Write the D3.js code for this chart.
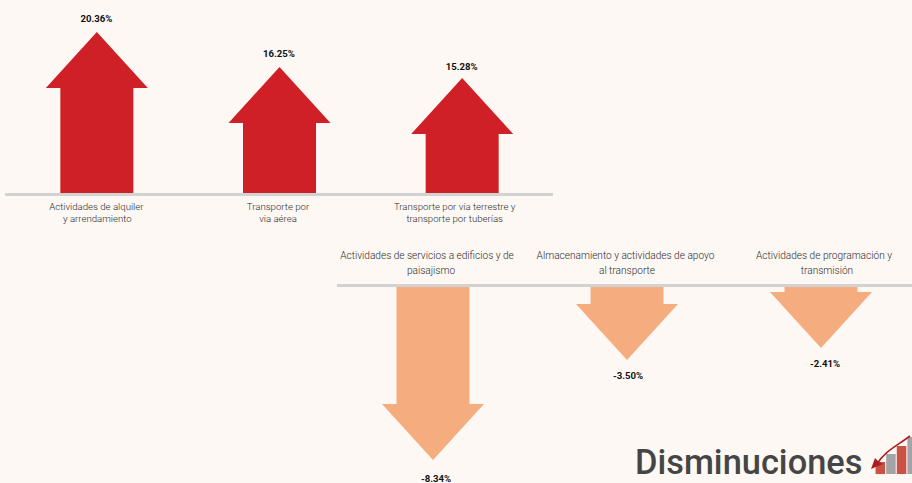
<!DOCTYPE html>
<html lang="es">
<head>
  <meta charset="UTF-8">
  <title>Disminuciones</title>
  <script src="https://d3js.org/d3.v7.min.js"></script>
  <style>
    html, body { margin: 0; padding: 0; background: #fdf8f4; overflow: hidden; }
    svg { display: block; font-family: Roboto, sans-serif; }
    .cat { font-weight: 300; fill: #2b2b2b; text-anchor: middle; }
    .cat1 { font-size: 9.65px; }
    .cat2 { font-size: 10.1px; }
    .val { font-size: 9.6px; font-weight: 700; fill: #111; text-anchor: middle; }
    .base { stroke: #d2d2d0; stroke-width: 3px; }
  </style>
</head>
<body>
  <div id="chart"></div>
  <script>
    // datos
    const upCategories = [
      ["Actividades de alquiler", "y arrendamiento"],
      ["Transporte por", "via aérea"],
      ["Transporte por vía terrestre y", "transporte por tuberías"]
    ];
    const upValues = [20.36, 16.25, 15.28];

    const downCategories = [
      ["Actividades de servicios a edificios y de", "paisajismo"],
      ["Almacenamiento y actividades de apoyo", "al transporte"],
      ["Actividades de programación y", "transmisión"]
    ];
    const downValues = [-8.34, -3.5, -2.41];

    const iconBars = [12, 20, 28, 37];

    const width = 912;
    const height = 483;
    const headLength = 56;
    const headHalf = 51;
    const shaftHalf = 36.5;

    // ajustes finos de las etiquetas (primera y segunda linea) respecto al centro de cada banda
    const upLabelShift = [[0, 1], [-1, -1], [-7, -7]];
    const downLabelShift = [[-6, -2], [-1.5, 0], [3, 6]];
    const upValueShift = [0, 0, 2];
    const downValueShift = [[3, 2], [1, -1], [4, -1]];

    const svg = d3.select("#chart").append("svg")
      .attr("width", width)
      .attr("height", height);

    svg.append("rect").attr("width", width).attr("height", height).attr("fill", "#fdf8f4");

    // la escala del original no es proporcional, por eso tiene un tramo intermedio
    const upX = d3.scaleBand().domain(d3.range(upValues.length)).range([5, 553]);
    const upShaft = d3.scaleLinear().domain([9.93, 16.25, 20.36]).range([0, 71, 106]);
    const downX = d3.scaleBand().domain(d3.range(downValues.length)).range([336, 918]);
    const downShaft = d3.scaleLinear().domain([-1.86, -3.5, -8.34]).range([0, 18, 118]);

    // dir = -1 arriba, 1 abajo
    function arrow(cx, y0, shaft, dir) {
      const p = d3.path();
      const yh = y0 + dir * shaft;
      p.moveTo(cx - shaftHalf, y0);
      p.lineTo(cx - shaftHalf, yh);
      p.lineTo(cx - headHalf, yh);
      p.lineTo(cx, yh + dir * headLength);
      p.lineTo(cx + headHalf, yh);
      p.lineTo(cx + shaftHalf, yh);
      p.lineTo(cx + shaftHalf, y0);
      p.closePath();
      return p.toString();
    }

    function labels(sel, lines, xPos, shift, y, cls) {
      const t = sel.selectAll("text." + cls).data(lines).enter().append("text")
        .attr("class", "cat " + cls)
        .attr("y", y);
      t.selectAll("tspan").data((d, i) => d.map(s => [s, i])).enter().append("tspan")
        .attr("x", (d, j) => xPos(d[1]) + xPos.bandwidth() / 2 + shift[d[1]][j])
        .attr("dy", (d, i) => i ? (cls === "cat2" ? 14.6 : 12) : 0)
        .text(d => d[0]);
    }

    const fmt = v => v.toFixed(2) + "%";

    // aumentos
    const upY = 194;
    const up = svg.append("g");
    up.selectAll("path").data(upValues).enter().append("path")
      .attr("fill", "#cf2027")
      .attr("d", (d, i) => arrow(upX(i) + upX.bandwidth() / 2 + 0.5, upY, upShaft(d), -1));
    up.selectAll("text.val").data(upValues).enter().append("text")
      .attr("class", "val")
      .attr("x", (d, i) => upX(i) + upX.bandwidth() / 2)
      .attr("y", (d, i) => upY - upShaft(d) - headLength - 10 + upValueShift[i])
      .text(fmt);
    up.append("line").attr("class", "base").attr("x1", 5).attr("x2", 553).attr("y1", 194.5).attr("y2", 194.5);
    labels(up, upCategories, upX, upLabelShift, 210, "cat1");

    // disminuciones
    const downY = 286;
    const down = svg.append("g");
    down.selectAll("path").data(downValues).enter().append("path")
      .attr("fill", "#f5ad80")
      .attr("d", (d, i) => arrow(downX(i) + downX.bandwidth() / 2, downY, downShaft(d), 1));
    down.selectAll("text.val").data(downValues).enter().append("text")
      .attr("class", "val")
      .attr("x", (d, i) => downX(i) + downX.bandwidth() / 2 + downValueShift[i][0])
      .attr("y", (d, i) => downY + downShaft(d) + headLength + 20 + downValueShift[i][1])
      .text(fmt);
    down.append("line").attr("class", "base").attr("x1", 337).attr("x2", width).attr("y1", 285.5).attr("y2", 285.5);
    labels(down, downCategories, downX, downLabelShift, 259, "cat2");

    // titulo e icono
    svg.append("text")
      .attr("x", 635).attr("y", 474)
      .attr("font-size", 34.4).attr("font-weight", 500).attr("fill", "#454545")
      .text("Disminuciones");

    const iconX = d3.scaleBand().domain(d3.range(iconBars.length)).range([874.5, 918]).padding(0.1);
    const iconH = d3.scaleLinear().domain([0, 37]).range([474, 437]);
    svg.append("g").selectAll("rect").data(iconBars).enter().append("rect")
      .attr("x", (d, i) => iconX(i))
      .attr("y", d => iconH(d))
      .attr("width", iconX.bandwidth())
      .attr("height", d => 474 - iconH(d))
      .attr("fill", (d, i) => i % 2 ? "#a3a4a8" : "#c95244");
    svg.append("path")
      .attr("d", "M910,436 C895,447 884,452 877,464")
      .attr("fill", "none").attr("stroke", "#ab1f24").attr("stroke-width", 1.6);
    svg.append("path")
      .attr("d", "M871,469 L875,458 L879,462 L883,464 Z")
      .attr("fill", "#ab1f24");
  </script>
</body>
</html>
